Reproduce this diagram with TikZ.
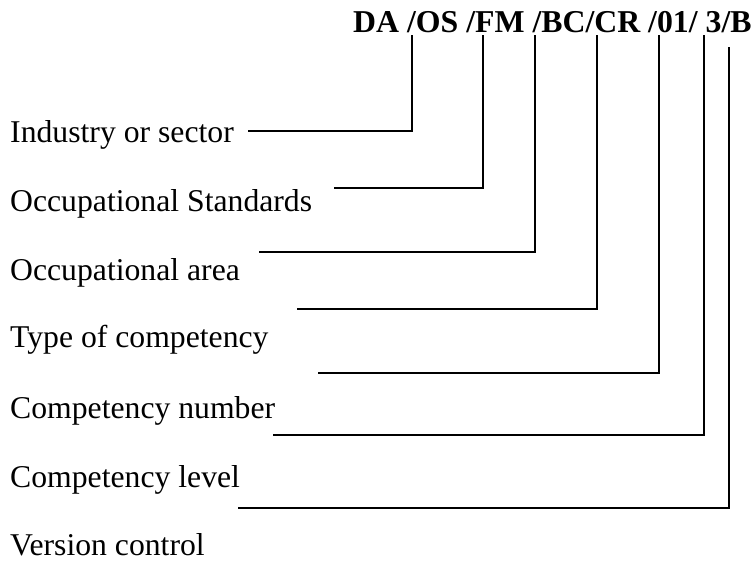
\documentclass[tikz,border=0pt]{standalone}
\usepackage{fontspec}
\setmainfont{Liberation Serif}
\begin{document}
\begin{tikzpicture}[x=1pt,y=-1pt,
  lbl/.style={anchor=base west,inner sep=0pt,font=\fontsize{31.7}{38}\selectfont},
  code/.style={anchor=base west,inner sep=0pt,font=\fontsize{31.8}{38}\selectfont\bfseries},
  lead/.style={line width=1.6pt,black}]
\useasboundingbox (0,0) rectangle (756,567);

% code string at the top
\node[code] (code) at (353,33) {DA /OS /FM /BC/CR /01/ 3/B};

% labels down the left side
\node[lbl] (ind) at (10,143) {Industry or sector};
\node[lbl] (occ) at (10,212) {Occupational Standards};
\node[lbl] (area) at (10,280) {Occupational area};
\node[lbl] (type) at (10,347) {Type of competency};
\node[lbl] (num) at (10,418) {Competency number};
\node[lbl] (lev) at (10,487) {Competency level};
\node[lbl] (ver) at (10,555) {Version control};

% tap points under the code segments
\coordinate (t1) at (412,35);
\coordinate (t2) at (483,35);
\coordinate (t3) at (535,35);
\coordinate (t4) at (597,35);
\coordinate (t5) at (659,35);
\coordinate (t6) at (704,35);
\coordinate (t7) at (729,47);

% free ends of the leader lines
\coordinate (e1) at (248,131);
\coordinate (e2) at (334,188);
\coordinate (e3) at (259,252);
\coordinate (e4) at (297,309);
\coordinate (e5) at (318,373);
\coordinate (e6) at (273,435);
\coordinate (e7) at (238,508);

\foreach \i in {1,...,7}
  \draw[lead] (e\i) -| (t\i);
\end{tikzpicture}
\end{document}
